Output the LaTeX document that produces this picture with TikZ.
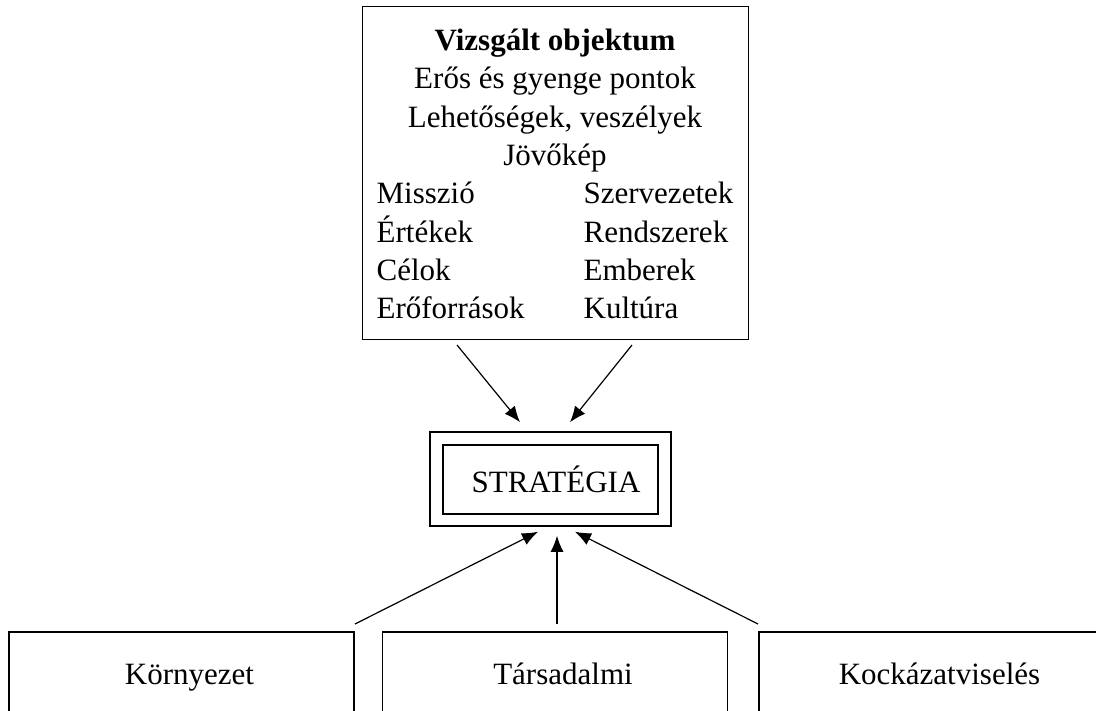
\documentclass[tikz,border=0pt]{standalone}
\usepackage{fontspec}
\setmainfont{Liberation Serif}
\usepackage{array}
\usetikzlibrary{arrows.meta}
\newcommand{\objszel}{193pt}
\newcommand{\objmag}{166pt}
\newcommand{\balhasab}{103.5pt}
\newcommand{\alsoszel}{172.5pt}
\newcommand{\alsomag}{44pt}
\newcommand{\szovegtol}{8pt}

\begin{document}
\begin{tikzpicture}[x=0.5pt,y=-0.5pt,
    font=\fontsize{15.5}{19.14}\selectfont,
    doboz/.style={draw,line width=0.5pt,inner sep=0pt,outer sep=0pt},
    also/.style={doboz,line width=0.65pt,minimum width=\alsoszel,minimum height=\alsomag,
      text height=11pt,text depth=3pt},
    keret/.style={draw,line width=1pt,double,double distance=5.25pt,
      inner sep=0pt,outer sep=0pt,minimum width=114pt,minimum height=40.75pt,
      text height=14pt,text depth=1pt},
    nyil/.style={-{Latex[length=8pt,width=6.5pt]},line width=0.6pt}]
    \useasboundingbox (0,0) rectangle (1096,711);
    \clip (0,0) rectangle (1096,711);

    % vizsgalt objektum
    \node[doboz,minimum width=\objszel,minimum height=\objmag] (objektum) at (555,173)
      {\raisebox{-2pt}[\height][\depth]{\begin{tabular}{@{}p{\balhasab}@{}l@{}}
        \multicolumn{2}{c}{\textbf{Vizsgált objektum}}\\
        \multicolumn{2}{c}{Erős és gyenge pontok}\\
        \multicolumn{2}{c}{Lehetőségek, veszélyek}\\
        \multicolumn{2}{c}{Jövőkép}\\
        Misszió & Szervezetek\\
        Értékek & Rendszerek\\
        Célok & Emberek\\
        Erőforrások & Kultúra
      \end{tabular}}};

    % strategia
    \node[keret] (strategia) at (550.5,479) {\hspace*{5.5pt}STRATÉGIA};

    % also dobozok
    \node[also] (kornyezet) at (181.5,676) {\hspace*{\szovegtol}Környezet};
    \node[also] (tarsadalmi) at (555,676) {\hspace*{\szovegtol}Társadalmi};
    \node[also] (kockazat) at (931.5,676) {\hspace*{\szovegtol}Kockázatviselés};

    % nyilak
    \draw[nyil] ([shift={(-98,6)}]objektum.south) -- ([shift={(-30.5,-16)}]strategia.north);
    \draw[nyil] ([shift={(77,6)}]objektum.south) -- ([shift={(19.5,-16)}]strategia.north);
    \draw[nyil] ([shift={(1,-8)}]kornyezet.north east) -- ([shift={(-12.5,12)}]strategia.south);
    \draw[nyil] ([shift={(2,-8)}]tarsadalmi.north) -- ([shift={(6.5,16)}]strategia.south);
    \draw[nyil] ([shift={(-1,-8)}]kockazat.north west) -- ([shift={(24.5,12)}]strategia.south);
  \end{tikzpicture}
\end{document}
